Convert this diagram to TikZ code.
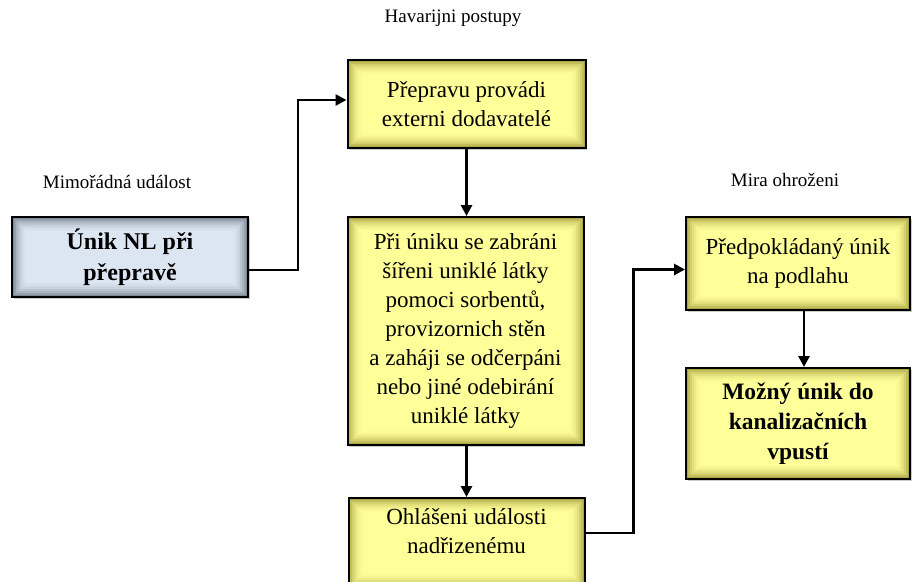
\documentclass[tikz,border=0pt]{standalone}
\usepackage{fontspec}
\setmainfont{Liberation Serif}
\usetikzlibrary{arrows.meta,shadows}

\definecolor{boxyellow}{HTML}{FFFF99}
\definecolor{boxyellowedge}{HTML}{9C9438}
\definecolor{boxblue}{HTML}{DCE6F2}
\definecolor{boxblueedge}{HTML}{6C7684}

\tikzset{
  inner glow/.style 2 args={path picture={
      \foreach \d/\m in {1/85,3/62,5/44,7/30,9/19,11/10,13/4}{
        \draw[line width=2.2pt,#2!\m!#1]
          ([shift={(\d pt,-\d pt)}]path picture bounding box.north west)
          rectangle ([shift={(-\d pt,\d pt)}]path picture bounding box.south east);
      }}},
  basebox/.style={draw=black, line width=2pt, align=center, inner sep=4pt,
    drop shadow={shadow xshift=1.5pt, shadow yshift=-1.5pt, opacity=.4}},
  ybox/.style={basebox, fill=boxyellow, inner glow={boxyellow}{boxyellowedge},
    font=\fontsize{23}{29}\selectfont},
  bbox/.style={basebox, fill=boxblue, inner glow={boxblue}{boxblueedge},
    font=\fontsize{24}{31}\selectfont\bfseries},
  heading/.style={font=\fontsize{19}{22}\selectfont, inner sep=0pt},
  arr/.style={draw=black, line width=2.8pt, -{Triangle[length=11pt,width=11pt]}}
}

\begin{document}
\begin{tikzpicture}[x=1pt, y=-1pt]
  \useasboundingbox (0,0) rectangle (912,581);

  % column headings
  \node[heading] (hhav) at (453,18) {Havarijni postupy};
  \node[heading] (hmim) at (117,182) {Mimořádná událost};
  \node[heading] (hmira) at (785,180) {Mira ohroženi};

  % boxes
  \node[bbox, minimum width=236pt, minimum height=80pt] (unik) at (130,257)
    {Únik NL při\\přepravě};
  \node[ybox, minimum width=238pt, minimum height=88pt] (prep) at (466.5,104)
    {Přepravu provádi\\externi dodavatelé};
  \node[ybox, minimum width=236pt, minimum height=228pt] (zasah) at (465.5,331)
    {Při úniku se zabráni\\šířeni uniklé látky\\pomoci sorbentů,\\provizornich stěn\\a zaháji se odčerpáni\\nebo jiné odebirání\\uniklé látky};
  \node[ybox, minimum width=236pt, minimum height=90pt, text depth=24pt] (hlas) at (466.5,543)
    {Ohlášeni události\\nadřizenému};
  \node[ybox, minimum width=224pt, minimum height=93pt] (podl) at (798,263.5)
    {Předpokládaný únik\\na podlahu};
  \node[ybox, minimum width=224pt, minimum height=111pt,
    font=\fontsize{23.5}{30}\selectfont\bfseries] (kanal) at (798,423.5)
    {Možný únik do\\kanalizačních\\vpustí};

  % connectors
  \draw[arr] ([yshift=-13pt]unik.east) -- ++(49,0) |- ([yshift=4pt]prep.west);
  \draw[arr] (prep.south) -- (prep.south |- zasah.north);
  \draw[arr] (prep.south |- zasah.south) -- (prep.south |- hlas.north);
  \draw[arr] ([yshift=10pt]hlas.east) -- ++(48,0) |- ([yshift=-6pt]podl.west);
  \draw[arr] ([xshift=6pt]podl.south) -- ([xshift=6pt]podl.south |- kanal.north);
\end{tikzpicture}
\end{document}
